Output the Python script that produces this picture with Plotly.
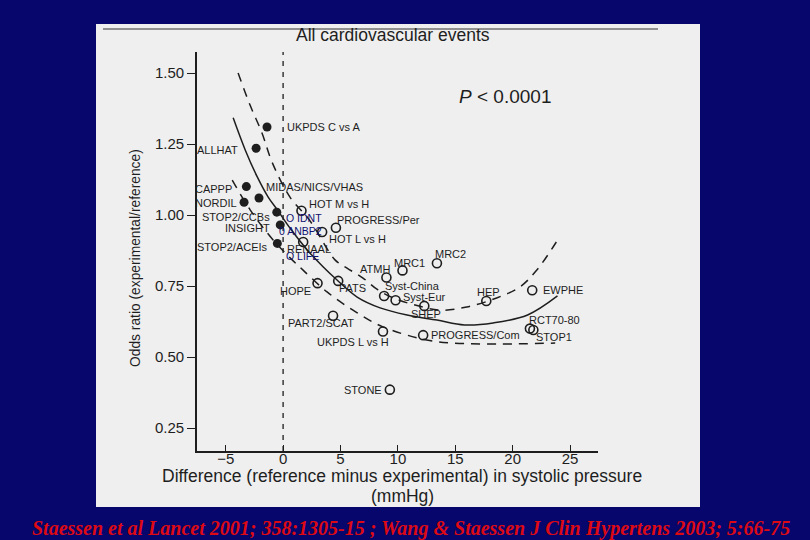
import plotly.graph_objects as go

# ---------------- data ----------------
filled_names = ["UKPDS C vs A", "ALLHAT", "CAPPP", "MIDAS/NICS/VHAS", "NORDIL",
                "STOP2/CCBs", "INSIGHT", "STOP2/ACEIs"]
filled_x = [-1.4, -2.35, -3.2, -2.1, -3.4, -0.55, -0.25, -0.5]
filled_y = [1.31, 1.235, 1.10, 1.06, 1.045, 1.01, 0.965, 0.90]

open_names = ["HOT M vs H", "PROGRESS/Per", "HOT L vs H", "RENAAL", "MRC2", "MRC1",
              "ATMH", "HOPE", "PATS", "Syst-China", "Syst-Eur", "SHEP", "HEP", "EWPHE",
              "RCT70-80", "STOP1", "PART2/SCAT", "UKPDS L vs H", "PROGRESS/Com", "STONE"]
open_x = [1.6, 4.6, 3.4, 1.75, 13.4, 10.4, 9.0, 3.0, 4.8, 8.8, 9.8, 12.3, 17.7, 21.7,
          21.5, 21.8, 4.35, 8.7, 12.2, 9.3]
open_y = [1.015, 0.955, 0.94, 0.905, 0.83, 0.805, 0.78, 0.76, 0.768, 0.715, 0.70, 0.68,
          0.697, 0.735, 0.60, 0.595, 0.645, 0.59, 0.577, 0.385]

added_names = ["O IDNT", "0 ANBP2", "O LIFE"]
added_x = [0.25, -0.35, 0.25]
added_y = [0.986, 0.94, 0.852]

solid_x = [-4.35, -3.3, -2.25, -1.3, -0.5, 0.6, 2.1, 3.5, 4.7, 6.45, 8.45, 10.8, 13.4,
           15.8, 18.3, 21.3, 23.9]
solid_y = [1.342, 1.229, 1.134, 1.063, 1.018, 0.954, 0.877, 0.817, 0.771, 0.711, 0.673,
           0.648, 0.63, 0.613, 0.62, 0.648, 0.715]

upper_x = [-3.92, -2.88, -1.84, -0.97, 0.6, 2.17, 2.87, 4.52, 5.57, 6.96, 8.27, 9.6,
           11.5, 13.65, 16.0, 18.6, 20.6, 22.1, 23.8]
upper_y = [1.50, 1.387, 1.289, 1.187, 1.063, 0.989, 0.947, 0.842, 0.813, 0.778, 0.736,
           0.708, 0.683, 0.665, 0.676, 0.708, 0.746, 0.806, 0.905]

lower_x = [-4.43, -2.87, -0.87, 0.61, 1.74, 3.83, 6.09, 8.7, 12.5, 14.8, 18.9, 23.7]
lower_y = [1.123, 1.018, 0.912, 0.849, 0.806, 0.729, 0.665, 0.606, 0.56, 0.549, 0.546,
           0.549]

x_ticks = [-5, 0, 5, 10, 15, 20, 25]
x_ticktext = ["\u22125", "0", "5", "10", "15", "20", "25"]
y_ticks = [0.25, 0.50, 0.75, 1.00, 1.25, 1.50]
y_ticktext = ["0.25", "0.50", "0.75", "1.00", "1.25", "1.50"]

# ---------------- style / layout ----------------
W, H = 810, 540
PL, PR, PT, PB = 197, 598, 52, 451   # plot area in pixels
BG = "#06066c"
PANEL = "#efefef"
INK = "#1e1e1e"
FONT = "Liberation Sans, Arial, sans-serif"

def px(xp):
    return (xp - PL) / (PR - PL)

def py(yp):
    return (PB - yp) / (PB - PT)

# label placement: (xanchor, dx, dy) in pixels relative to point
filled_lab = {
    "UKPDS C vs A": ("left", 18, 0), "ALLHAT": ("right", -16, 2),
    "CAPPP": ("right", -12, 2), "MIDAS/NICS/VHAS": ("left", 5, -11),
    "NORDIL": ("right", -5, 1), "STOP2/CCBs": ("right", -5, 5),
    "INSIGHT": ("right", -8, 3), "STOP2/ACEIs": ("right", -7, 4),
}
open_lab = {
    "HOT M vs H": ("left", 6, -7), "PROGRESS/Per": ("left", -1, -8),
    "HOT L vs H": ("left", 5, 7), "RENAAL": ("left", -18, 7),
    "MRC2": ("left", -4, -9), "MRC1": ("left", -10, -7), "ATMH": ("left", -28, -8),
    "HOPE": ("right", -5, 8), "PATS": ("left", -1, 7), "Syst-China": ("left", -1, -10),
    "Syst-Eur": ("left", 5, -3), "SHEP": ("left", -15, 8), "HEP": ("left", -11, -9),
    "EWPHE": ("left", 9, 0), "RCT70-80": ("left", -3, -9), "STOP1": ("left", 1, 7),
    "PART2/SCAT": ("left", -47, 7), "UKPDS L vs H": ("left", -68, 11),
    "PROGRESS/Com": ("left", 6, 0), "STONE": ("right", -6, 0),
}

fig = go.Figure()

fig.add_trace(go.Scatter(x=upper_x, y=upper_y, mode="lines", line_shape="spline",
                         line=dict(color=INK, width=1.5, dash="9px,7px"),
                         hoverinfo="skip", showlegend=False))
fig.add_trace(go.Scatter(x=lower_x, y=lower_y, mode="lines", line_shape="spline",
                         line=dict(color=INK, width=1.5, dash="9px,7px"),
                         hoverinfo="skip", showlegend=False))
fig.add_trace(go.Scatter(x=solid_x, y=solid_y, mode="lines", line_shape="spline",
                         line=dict(color=INK, width=1.5),
                         hoverinfo="skip", showlegend=False))

fig.add_trace(go.Scatter(x=filled_x, y=filled_y, mode="markers", text=filled_names,
                         marker=dict(symbol="circle", size=9, color=INK),
                         showlegend=False))
fig.add_trace(go.Scatter(x=open_x, y=open_y, mode="markers", text=open_names,
                         marker=dict(symbol="circle-open", size=9, color=INK,
                                     line=dict(width=1.6)),
                         showlegend=False))
fig.add_trace(go.Scatter(x=added_x, y=added_y, mode="text", text=added_names,
                         textposition="middle right",
                         textfont=dict(family=FONT, size=10.5, color="#101070"),
                         showlegend=False))

ann = []
for names, xs, ys, lab in ((filled_names, filled_x, filled_y, filled_lab),
                           (open_names, open_x, open_y, open_lab)):
    for n, xv, yv in zip(names, xs, ys):
        xa, dx, dy = lab[n]
        ann.append(dict(x=xv, y=yv, xref="x", yref="y", text=n, showarrow=False,
                        xanchor=xa, yanchor="middle", xshift=dx, yshift=-dy,
                        font=dict(family=FONT, size=11, color=INK)))

# titles and texts
ann.append(dict(x=px(393), y=py(35), xref="paper", yref="paper",
                text="All cardiovascular events", showarrow=False,
                xanchor="center", yanchor="middle",
                font=dict(family=FONT, size=17.5, color=INK)))
ann.append(dict(x=px(457), y=py(96), xref="paper", yref="paper",
                text="<i>P</i> < 0.0001", showarrow=False,
                xanchor="left", yanchor="middle",
                font=dict(family=FONT, size=19, color=INK)))
ann.append(dict(x=px(135), y=py(258), xref="paper", yref="paper",
                text="Odds ratio (experimental/reference)", showarrow=False,
                textangle=-90, xanchor="center", yanchor="middle",
                font=dict(family=FONT, size=13.8, color=INK)))
ann.append(dict(x=px(402), y=py(476), xref="paper", yref="paper",
                text="Difference (reference minus experimental) in systolic pressure",
                showarrow=False, xanchor="center", yanchor="middle",
                font=dict(family=FONT, size=17.5, color=INK)))
ann.append(dict(x=px(402), y=py(496), xref="paper", yref="paper",
                text="(mmHg)", showarrow=False, xanchor="center", yanchor="middle",
                font=dict(family=FONT, size=17.5, color=INK)))
ann.append(dict(x=px(411), y=py(528), xref="paper", yref="paper",
                text="<b><i>Staessen et al Lancet 2001; 358:1305-15 ; Wang &amp; Staessen J Clin Hypertens 2003; 5:66-75</i></b>",
                showarrow=False, xanchor="center", yanchor="middle",
                font=dict(family="Liberation Serif, Times New Roman, serif", size=20,
                          color="#dd0a14")))

shapes = [
    dict(type="rect", xref="paper", yref="paper", x0=px(96), x1=px(700),
         y0=py(507), y1=py(24), fillcolor=PANEL, line=dict(width=0), layer="below"),
    dict(type="line", xref="paper", yref="paper", x0=px(103), x1=px(658),
         y0=py(29), y1=py(29), line=dict(color="#707070", width=1.5), layer="below"),
    dict(type="line", xref="x", yref="paper", x0=0, x1=0, y0=0, y1=1,
         line=dict(color=INK, width=1.3, dash="5px,6px"), layer="below"),
]

fig.update_layout(
    width=W, height=H,
    margin=dict(l=PL, r=W - PR, t=PT, b=H - PB, pad=0),
    paper_bgcolor=BG, plot_bgcolor="rgba(0,0,0,0)",
    showlegend=False, annotations=ann, shapes=shapes,
    font=dict(family=FONT, color=INK),
)
fig.update_xaxes(range=[(PL - 283.1) / 11.48, (PR - 283.1) / 11.48],
                 tickvals=x_ticks, ticktext=x_ticktext, ticks="inside", ticklen=6,
                 tickwidth=1.3, tickcolor=INK, showline=True, linecolor=INK,
                 linewidth=1.6, showgrid=False, zeroline=False,
                 ticklabelstandoff=-7,
                 tickfont=dict(family=FONT, size=15, color=INK))
fig.update_yaxes(range=[1 - (PB - 215) / 284, 1 + (215 - PT) / 284],
                 tickvals=y_ticks, ticktext=y_ticktext, ticks="outside", ticklen=8,
                 tickwidth=1.3, tickcolor=INK, showline=True, linecolor=INK,
                 linewidth=1.6, showgrid=False, zeroline=False,
                 tickfont=dict(family=FONT, size=15, color=INK))

fig.write_html("out.html", config={"displayModeBar": False},
               post_script="document.body.style.margin='0';")
